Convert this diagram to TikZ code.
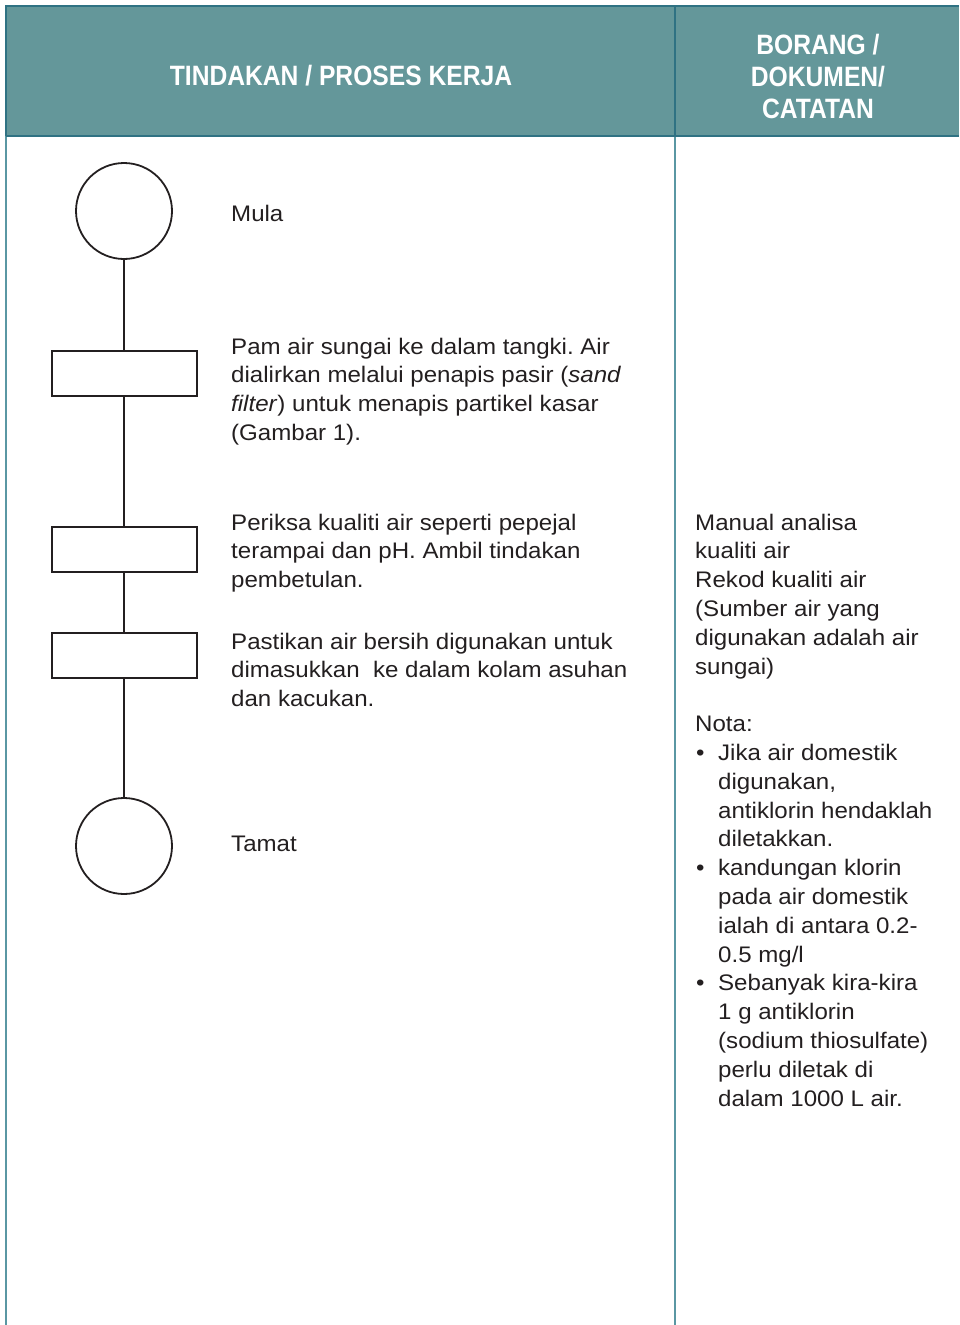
\documentclass[tikz,border=0pt]{standalone}
\usepackage{fontspec}
\setmainfont{Liberation Sans}[FakeStretch=1.07]
\newfontfamily\headfont[FakeStretch=0.88]{Liberation Sans}
\usetikzlibrary{positioning}
\frenchspacing

\definecolor{headteal}{HTML}{64979A}
\definecolor{frameteal}{HTML}{2F7283}
\definecolor{lineteal}{HTML}{5A97A3}
\definecolor{inkgray}{HTML}{231F20}

\begin{document}
\begin{tikzpicture}[x=1pt,y=1pt,
  startstop/.style={draw=inkgray, circle, minimum size=96pt, line width=1.8pt},
  procbox/.style={draw=inkgray, rectangle, minimum width=145pt, minimum height=45pt, line width=2pt},
  flowline/.style={draw=inkgray, line width=1.6pt},
  desc/.style={anchor=base west, align=left, inner sep=0pt, text=inkgray, font=\fontsize{22.5}{28.8}\selectfont},
  headtext/.style={align=center, text=white, font=\headfont\bfseries\fontsize{28}{32}\selectfont}]
\useasboundingbox (0,0) rectangle (959,-1325);

% table
\fill[headteal] (6,-6) rectangle (959,-136);
\draw[lineteal, line width=1.6pt] (6,-136) -- (6,-1325);
\draw[lineteal, line width=1.6pt] (675,-136) -- (675,-1325);
\draw[frameteal, line width=1.8pt] (6,-136) -- (6,-6) -- (959,-6);
\draw[frameteal, line width=1.8pt] (6,-136) -- (959,-136);
\draw[frameteal, line width=1.6pt] (675,-6) -- (675,-136);
\node (headleft) [headtext] at (341,-76) {TINDAKAN / PROSES KERJA};
\node (headright) [headtext] at (818,-76) {BORANG /\\DOKUMEN/\\CATATAN};

% flow
\node (mula) [startstop] at (124,-211) {};
\node (pam) [procbox, below of=mula, node distance=162pt] {};
\node (periksa) [procbox, below of=pam, node distance=176pt] {};
\node (pastikan) [procbox, below of=periksa, node distance=106pt] {};
\node (tamat) [startstop, below of=pastikan, node distance=191pt] {};

\draw[flowline] (mula) -- (pam);
\draw[flowline] (pam) -- (periksa);
\draw[flowline] (periksa) -- (pastikan);
\draw[flowline] (pastikan) -- (tamat);

% texts (placed at the baseline of their last line)
\node (tmula) [desc] at (231,-221) {Mula};
\node (tpam) [desc] at (231,-440.4) {Pam air sungai ke dalam tangki. Air\\dialirkan melalui penapis pasir (\textit{sand}\\\textit{filter}) untuk menapis partikel kasar\\(Gambar 1).};
\node (tperiksa) [desc] at (231,-587.6) {Periksa kualiti air seperti pepejal\\terampai dan pH. Ambil tindakan\\pembetulan.};
\node (tpastikan) [desc] at (231,-706.6) {Pastikan air bersih digunakan untuk\\dimasukkan~ ke dalam kolam asuhan\\dan kacukan.};
\node (ttamat) [desc] at (231,-851) {Tamat};

\node (catatan) [desc] at (695,-1106) {Manual analisa\\kualiti air\\Rekod kualiti air\\(Sumber air yang\\digunakan adalah air\\sungai)\\[28.8pt]
Nota:\\
\makebox[23pt][l]{\hspace{1pt}•}Jika air domestik\\\hspace*{23pt}digunakan,\\\hspace*{23pt}antiklorin hendaklah\\\hspace*{23pt}diletakkan.\\
\makebox[23pt][l]{\hspace{1pt}•}kandungan klorin\\\hspace*{23pt}pada air domestik\\\hspace*{23pt}ialah di antara 0.2-\\\hspace*{23pt}0.5 mg/l\\
\makebox[23pt][l]{\hspace{1pt}•}Sebanyak kira-kira\\\hspace*{23pt}1 g antiklorin\\\hspace*{23pt}(sodium thiosulfate)\\\hspace*{23pt}perlu diletak di\\\hspace*{23pt}dalam 1000 L air.};
\end{tikzpicture}
\end{document}
